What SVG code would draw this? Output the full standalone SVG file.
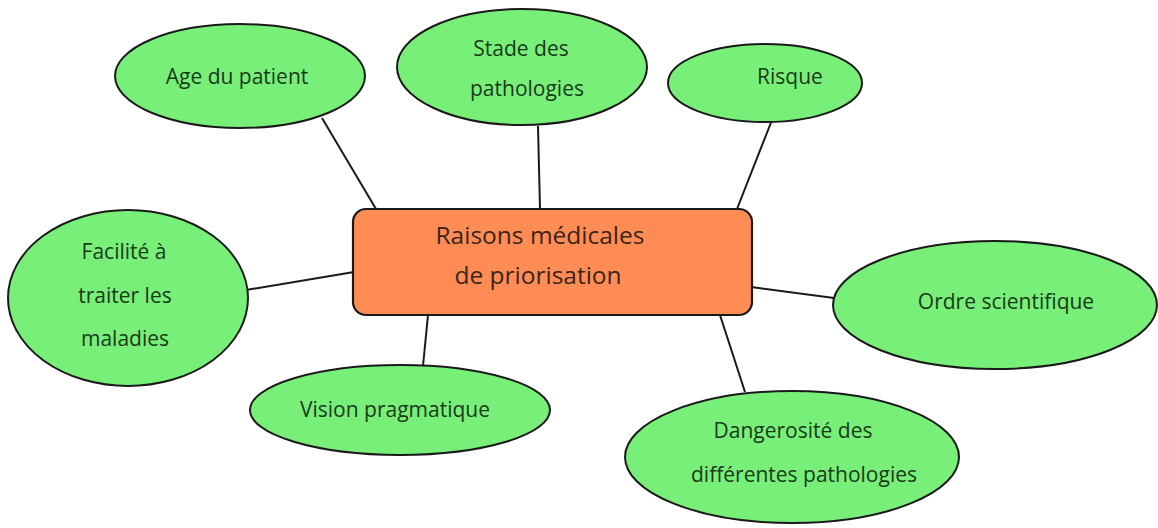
<svg xmlns="http://www.w3.org/2000/svg" width="1158" height="528" viewBox="0 0 1158 528">
  <style>
    .bg { fill: #ffffff; }
    .leaf { fill: #78ef78; stroke: #1a1a1a; stroke-width: 2; }
    .hub { fill: #ff8c55; stroke: #1a1a1a; stroke-width: 2.2; }
    .edge { stroke: #1a1a1a; stroke-width: 2; fill: none; }
    .lbl { font-family: "Open Sans", "Liberation Sans", sans-serif; font-size: 21px; fill: #183a18; text-anchor: middle; }
    .hubl { font-family: "Open Sans", "Liberation Sans", sans-serif; font-size: 24.5px; fill: #3a2418; text-anchor: middle; }
  </style>
  <rect class="bg" x="0" y="0" width="1158" height="528"/>

  <!-- spokes from the central box to each reason -->
  <g id="connectors">
    <line class="edge" x1="322" y1="118" x2="376" y2="209"/>
    <line class="edge" x1="538" y1="126" x2="540" y2="209"/>
    <line class="edge" x1="772" y1="120" x2="737" y2="209"/>
    <line class="edge" x1="246" y1="290" x2="354" y2="272"/>
    <line class="edge" x1="428" y1="315" x2="423" y2="366"/>
    <line class="edge" x1="720" y1="315" x2="745" y2="392"/>
    <line class="edge" x1="751" y1="287" x2="834" y2="298"/>
  </g>

  <g id="age">
    <ellipse class="leaf" cx="240" cy="76" rx="125" ry="52"/>
    <text class="lbl" x="237" y="84">Age du patient</text>
  </g>

  <g id="stade">
    <ellipse class="leaf" cx="522" cy="67" rx="125" ry="58"/>
    <text class="lbl" x="521" y="56">Stade des</text>
    <text class="lbl" x="527" y="96">pathologies</text>
  </g>

  <g id="risque">
    <ellipse class="leaf" cx="765" cy="83" rx="97" ry="39"/>
    <text class="lbl" x="790" y="84">Risque</text>
  </g>

  <g id="facilite">
    <ellipse class="leaf" cx="128" cy="298" rx="120" ry="88"/>
    <text class="lbl" x="124" y="259">Facilité à</text>
    <text class="lbl" x="125" y="303">traiter les</text>
    <text class="lbl" x="125" y="346">maladies</text>
  </g>

  <g id="vision">
    <ellipse class="leaf" cx="400" cy="410" rx="150" ry="45"/>
    <text class="lbl" x="395" y="417">Vision pragmatique</text>
  </g>

  <g id="dangerosite">
    <ellipse class="leaf" cx="792" cy="457" rx="167" ry="66"/>
    <text class="lbl" x="793" y="438">Dangerosité des</text>
    <text class="lbl" x="804" y="482">différentes pathologies</text>
  </g>

  <g id="ordre">
    <ellipse class="leaf" cx="995" cy="305" rx="162" ry="64"/>
    <text class="lbl" x="1006" y="309">Ordre scientifique</text>
  </g>

  <g id="hub">
    <rect class="hub" x="353" y="209" width="399" height="106" rx="13" ry="13"/>
    <text class="hubl" x="540" y="244">Raisons médicales</text>
    <text class="hubl" x="538" y="284">de priorisation</text>
  </g>
</svg>
